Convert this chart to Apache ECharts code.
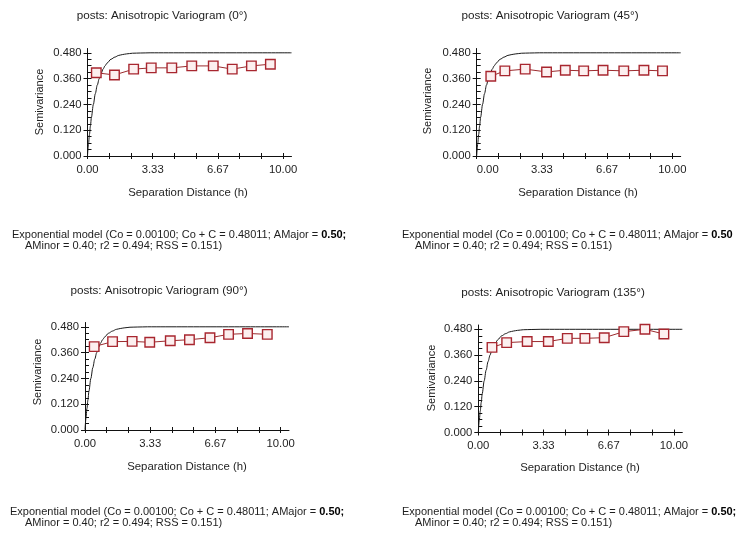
<!DOCTYPE html>
<html>
<head>
<meta charset="utf-8">
<script src="https://cdn.jsdelivr.net/npm/echarts@6/dist/echarts.min.js"></script>
<style>
html,body{margin:0;padding:0;background:#fff;}
#chart{width:737px;height:533px;}
</style>
</head>
<body>
<div id="chart"></div>
<script>
// ---- data ----
const panelTitles = [
  'posts: Anisotropic Variogram (0°)',
  'posts: Anisotropic Variogram (45°)',
  'posts: Anisotropic Variogram (90°)',
  'posts: Anisotropic Variogram (135°)'
];
// experimental semivariance points per direction
const lag0   = [0.45, 1.38, 2.36, 3.26, 4.31, 5.33, 6.43, 7.40, 8.38, 9.35];
const gamma0 = [0.387, 0.377, 0.404, 0.410, 0.410, 0.419, 0.419, 0.404, 0.419, 0.427];
const lag45   = [0.72, 1.44, 2.48, 3.57, 4.53, 5.47, 6.46, 7.52, 8.55, 9.50];
const gamma45 = [0.371, 0.396, 0.404, 0.391, 0.399, 0.396, 0.399, 0.396, 0.399, 0.396];
const lag90   = [0.47, 1.41, 2.41, 3.31, 4.36, 5.34, 6.39, 7.34, 8.31, 9.32];
const gamma90 = [0.388, 0.411, 0.412, 0.408, 0.415, 0.420, 0.429, 0.445, 0.449, 0.445];
const lag135   = [0.70, 1.45, 2.50, 3.58, 4.55, 5.45, 6.44, 7.44, 8.52, 9.49];
const gamma135 = [0.396, 0.418, 0.423, 0.423, 0.438, 0.438, 0.441, 0.469, 0.480, 0.458];
// model curve (same in every panel)
const modelH = [0, 0.05, 0.1, 0.15, 0.2, 0.3, 0.4, 0.5, 0.6, 0.7, 0.8, 0.9, 1.0, 1.2, 1.4, 1.6, 1.8, 2.0, 2.3, 2.7, 3.2, 10.43];
const modelG = [0.001, 0.055, 0.10, 0.14, 0.18, 0.24, 0.29, 0.33, 0.36, 0.385, 0.405, 0.42, 0.432, 0.45, 0.46, 0.468, 0.472, 0.475, 0.478, 0.479, 0.48, 0.48];
// axis ticks
const xLabelVals = [0, 3.3333, 6.6667, 10];
const xTickVals = [0, 1.1111, 2.2222, 3.3333, 4.4444, 5.5556, 6.6667, 7.7778, 8.8889, 10];
const yLabelVals = [0, 0.12, 0.24, 0.36, 0.48];
const yTickVals = [0, 0.03, 0.06, 0.09, 0.12, 0.15, 0.18, 0.21, 0.24, 0.27, 0.30, 0.33, 0.36, 0.39, 0.42, 0.45, 0.48];
const captionLine1 = 'Exponential model (Co = 0.00100; Co + C = 0.48011; AMajor = ';
const captionBold = ['0.50;', '0.50', '0.50;', '0.50;'];
const captionLine2 = 'AMinor = 0.40; r2 = 0.494; RSS = 0.151)';
const xName = 'Separation Distance (h)';
const yName = 'Semivariance';

const lags = [lag0, lag45, lag90, lag135];
const gammas = [gamma0, gamma45, gamma90, gamma135];

// ---- layout ----
const FONT = '"Liberation Sans", Arial, sans-serif';
const TXT = '#1e1e1e';
const layout = [
  {left: 87.5, top: 48.5, title: [162, 16], yl: [40, 102], xn: [188, 193], cap: [12, 235, 25, 246], minAlign: 'center'},
  {left: 476.7, top: 48.5, title: [550, 16], yl: [428, 101], xn: [578, 193], cap: [402, 235, 415, 246], minAlign: 'left'},
  {left: 85, top: 322.5, title: [159, 291], yl: [38, 372], xn: [187, 467], cap: [10, 512, 25, 523], minAlign: 'center'},
  {left: 478.3, top: 325, title: [553, 293], yl: [432, 378], xn: [580, 468], cap: [402, 512, 415, 523], minAlign: 'center'}
];
const GW = 204, GH = 107.5, XMAX = 10.43, YMAX = 0.5;

const grids = [], xAxes = [], yAxes = [], series = [], graphics = [];
layout.forEach((L, i) => {
  grids.push({left: L.left, top: L.top, width: GW, height: GH, containLabel: false});
  const ax = 2 * i;
  xAxes.push({
    type: 'value', gridIndex: i, min: 0, max: XMAX, position: 'bottom',
    axisLine: {show: true, onZero: false, lineStyle: {color: '#111', width: 1}},
    axisTick: {show: true, inside: false, length: 3, customValues: xTickVals, lineStyle: {color: '#111'}},
    axisLabel: {show: true, customValues: xLabelVals, margin: 8, color: TXT, fontSize: 11.3, fontFamily: FONT,
      formatter: v => v.toFixed(2), alignMinLabel: L.minAlign},
    splitLine: {show: false}
  });
  xAxes.push({
    type: 'value', gridIndex: i, min: 0, max: XMAX, position: 'bottom', offset: 0,
    axisLine: {show: false},
    axisTick: {show: true, inside: true, length: 3, customValues: xTickVals, lineStyle: {color: '#111'}},
    axisLabel: {show: false}, splitLine: {show: false}
  });
  yAxes.push({
    type: 'value', gridIndex: i, min: 0, max: YMAX, position: 'left',
    axisLine: {show: true, onZero: false, lineStyle: {color: '#111', width: 1}},
    axisTick: {show: true, inside: false, length: 4, customValues: yLabelVals, lineStyle: {color: '#111'}},
    axisLabel: {show: true, customValues: yLabelVals, margin: 6, color: TXT, fontSize: 11.3, fontFamily: FONT,
      formatter: v => v.toFixed(3)},
    splitLine: {show: false}
  });
  yAxes.push({
    type: 'value', gridIndex: i, min: 0, max: YMAX, position: 'left', offset: 0,
    axisLine: {show: false},
    axisTick: {show: true, inside: true, length: 4, customValues: yTickVals, lineStyle: {color: '#111'}},
    axisLabel: {show: false}, splitLine: {show: false}
  });
  series.push({
    type: 'line', xAxisIndex: ax, yAxisIndex: ax, silent: true, animation: false,
    data: modelH.map((h, k) => [h, modelG[k]]),
    showSymbol: false, symbol: 'none', smooth: 0.3, smoothMonotone: 'x',
    lineStyle: {color: '#1a1a1a', width: 1}, z: 2
  });
  series.push({
    type: 'line', xAxisIndex: ax, yAxisIndex: ax, silent: true, animation: false,
    data: lags[i].map((h, k) => [h, gammas[i][k]]),
    symbol: 'rect', symbolSize: 9.5,
    lineStyle: {color: '#9c2b2e', width: 1},
    itemStyle: {color: '#fcefef', borderColor: '#a8262f', borderWidth: 1.4}, z: 3
  });
  graphics.push({type: 'text', x: L.title[0], y: L.title[1], silent: true,
    style: {text: panelTitles[i], fill: TXT, font: '11.7px ' + FONT, align: 'center', verticalAlign: 'middle'}});
  graphics.push({type: 'text', x: L.yl[0], y: L.yl[1], rotation: Math.PI / 2, silent: true,
    style: {text: yName, fill: TXT, font: '11px ' + FONT, align: 'center', verticalAlign: 'middle'}});
  graphics.push({type: 'text', x: L.xn[0], y: L.xn[1], silent: true,
    style: {text: xName, fill: TXT, font: '11.4px ' + FONT, align: 'center', verticalAlign: 'middle'}});
  graphics.push({type: 'text', x: L.cap[0], y: L.cap[1], silent: true,
    style: {text: captionLine1 + '{b|' + captionBold[i] + '}', fill: TXT, fontSize: 11, fontFamily: FONT,
      align: 'left', verticalAlign: 'middle',
      rich: {b: {fontSize: 11, fontFamily: FONT, fontWeight: 'bold', fill: '#000'}}}});
  graphics.push({type: 'text', x: L.cap[2], y: L.cap[3], silent: true,
    style: {text: captionLine2, fill: TXT, fontSize: 11, fontFamily: FONT, align: 'left', verticalAlign: 'middle'}});
});

const chart = echarts.init(document.getElementById('chart'), null, {renderer: 'canvas'});
chart.setOption({
  backgroundColor: '#ffffff',
  animation: false,
  grid: grids, xAxis: xAxes, yAxis: yAxes, series: series, graphic: graphics
});
</script>
</body>
</html>
